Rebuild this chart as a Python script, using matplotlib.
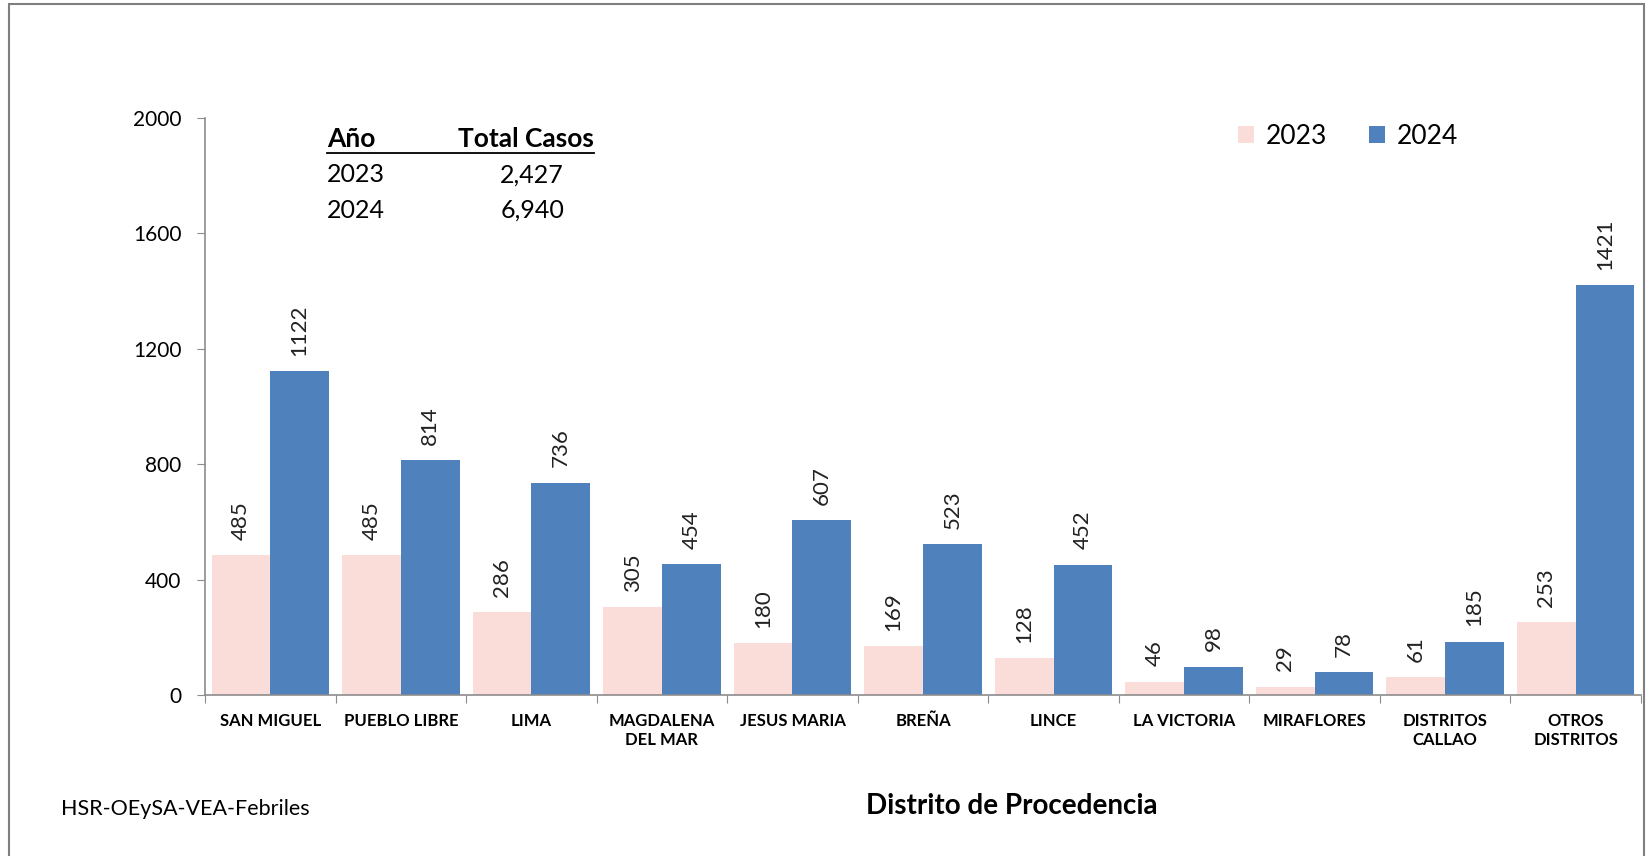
import matplotlib.pyplot as plt
import numpy as np
from matplotlib.lines import Line2D
from matplotlib.patches import Rectangle

# Data
districts = ["SAN MIGUEL", "PUEBLO LIBRE", "LIMA", "MAGDALENA\nDEL MAR", "JESUS MARIA",
             "BREÑA", "LINCE", "LA VICTORIA", "MIRAFLORES", "DISTRITOS\nCALLAO",
             "OTROS\nDISTRITOS"]
cases_2023 = [485, 485, 286, 305, 180, 169, 128, 46, 29, 61, 253]
cases_2024 = [1122, 814, 736, 454, 607, 523, 452, 98, 78, 185, 1421]
years = ["2023", "2024"]
totals = ["2,427", "6,940"]

pink = "#FADCD9"
blue = "#4F81BD"
gray = "#8C8C8C"

plt.rcParams['font.family'] = ['Lato', 'DejaVu Sans']

fig = plt.figure(figsize=(16.48, 8.56), dpi=100)
ax = fig.add_axes([205 / 1648, 1 - 695 / 856, (1641 - 205) / 1648, (695 - 118) / 856])

x = np.arange(len(districts))
w = 0.45
b1 = ax.bar(x - w / 2, cases_2023, w, color=pink, label="2023")
b2 = ax.bar(x + w / 2, cases_2024, w, color=blue, label="2024")

for bars, vals in [(b1, cases_2023), (b2, cases_2024)]:
    for rect, v in zip(bars, vals):
        ax.annotate(str(v), (rect.get_x() + rect.get_width() / 2, rect.get_height()),
                    xytext=(0, 11), textcoords="offset points", rotation=90,
                    ha="center", va="bottom", fontsize=16, color="#222222")

ax.set_xlim(-0.5, len(districts) - 0.5)
ax.set_ylim(0, 2000)
ax.set_yticks([0, 400, 800, 1200, 1600, 2000])
ax.tick_params(axis="y", labelsize=15, length=6, color=gray, pad=11)

# x ticks: marks at category boundaries, labels at centers
ax.set_xticks(np.arange(len(districts) + 1) - 0.5)
ax.set_xticklabels([])
ax.set_xticks(x, minor=True)
ax.set_xticklabels(districts, minor=True, fontsize=12, fontweight="bold", linespacing=1.2)
ax.tick_params(axis="x", which="major", length=6, color=gray)
ax.tick_params(axis="x", which="minor", length=0, pad=13)

for s in ["top", "right"]:
    ax.spines[s].set_visible(False)
for s in ["left", "bottom"]:
    ax.spines[s].set_color(gray)
    ax.spines[s].set_linewidth(1.2)

# legend
ax.legend(loc="center left", bbox_to_anchor=(1238 / 1648, 1 - 136 / 856),
          bbox_transform=fig.transFigure, ncol=2, frameon=False, fontsize=19,
          handlelength=0.6, handleheight=0.6, columnspacing=1.6, handletextpad=0.45,
          borderpad=0, borderaxespad=0)

# summary table
fig.text(327 / 1648, 1 - 139 / 856, "Año", fontsize=19, fontweight="bold", va="center")
fig.text(594 / 1648, 1 - 139 / 856, "Total Casos", fontsize=19, fontweight="bold",
         va="center", ha="right")
fig.add_artist(Line2D([327 / 1648, 594 / 1648], [1 - 153 / 856, 1 - 153 / 856],
                      color="black", lw=1.3))
for i, (yr, tot) in enumerate(zip(years, totals)):
    yy = 1 - (175 + 35 * i) / 856
    fig.text(327 / 1648, yy, yr, fontsize=18, va="center")
    fig.text(564 / 1648, yy, tot, fontsize=18, va="center", ha="right")

fig.text(1012 / 1648, 1 - 806 / 856, "Distrito de Procedencia", fontsize=20,
         fontweight="bold", ha="center", va="center")
fig.text(61 / 1648, 1 - 809 / 856, "HSR-OEySA-VEA-Febriles", fontsize=15.5, va="center")

# outer frame
fig.add_artist(Rectangle((9 / 1648, -0.05), (1644 - 9) / 1648, 1.05 - 4 / 856,
                         fill=False, edgecolor="#7F7F7F", lw=1.5,
                         transform=fig.transFigure))

fig.savefig("out.png", dpi=100)
